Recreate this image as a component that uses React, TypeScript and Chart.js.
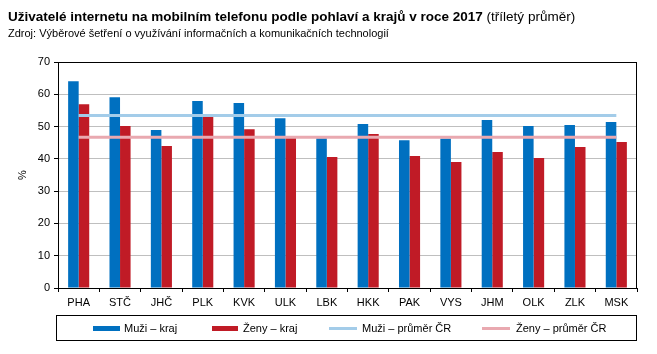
import React, { useEffect, useRef } from "react";
import { Chart, registerables } from "chart.js";

Chart.register(...registerables);

const regions = ["PHA", "STČ", "JHČ", "PLK", "KVK", "ULK", "LBK", "HKK", "PAK", "VYS", "JHM", "OLK", "ZLK", "MSK"];
const menRegion = [64.0, 59.1, 48.9, 57.9, 57.3, 52.6, 46.4, 50.8, 45.8, 46.3, 52.0, 50.2, 50.5, 51.4];
const womenRegion = [56.9, 50.2, 44.0, 53.0, 49.2, 46.5, 40.6, 47.7, 40.9, 39.0, 42.1, 40.3, 43.7, 45.2];
const menAvg = 53.4;
const womenAvg = 46.7;
const yTicks = [0, 10, 20, 30, 40, 50, 60, 70];

const titleBold = "Uživatelé internetu na mobilním telefonu podle pohlaví a krajů v roce 2017";
const titleNormal = " (tříletý průměr)";
const subtitle = "Zdroj: Výběrové šetření o využívání informačních a komunikačních technologií";
const legendLabels = ["Muži – kraj", "Ženy – kraj", "Muži – průměr ČR", "Ženy – průměr ČR"];

const BLUE = "#0070C0";
const RED = "#C01B26";
const LBLUE = "#A3CCE9";
const PINK = "#E9A9B0";
const FONT = "'Liberation Sans', Arial, sans-serif";

const decorPlugin = {
  id: "decor",
  afterDraw(chart: any) {
    const ctx = chart.ctx;
    const a = chart.chartArea;
    ctx.save();
    ctx.strokeStyle = "#000";
    ctx.lineWidth = 1;
    ctx.strokeRect(Math.round(a.left) + 0.5, Math.round(a.top) + 0.5, Math.round(a.right - a.left) - 1, Math.round(a.bottom - a.top));
    ctx.fillStyle = "#000";
    ctx.textBaseline = "alphabetic";
    ctx.textAlign = "left";
    ctx.font = `bold 13.5px ${FONT}`;
    ctx.fillText(titleBold, 8, 21);
    const w = ctx.measureText(titleBold).width;
    ctx.font = `13.5px ${FONT}`;
    ctx.fillText(titleNormal, 8 + w, 21);
    ctx.font = `11px ${FONT}`;
    ctx.fillText(subtitle, 8, 37);
    ctx.strokeRect(56.5, 315.5, 580, 25);
    const items = [
      { x: 93, w: 27, color: BLUE, h: 5, text: 124 },
      { x: 212, w: 26, color: RED, h: 5, text: 243 },
      { x: 329, w: 28, color: LBLUE, h: 3, text: 362 },
      { x: 482, w: 28, color: PINK, h: 3, text: 516 },
    ];
    items.forEach((it, i) => {
      ctx.fillStyle = it.color;
      ctx.fillRect(it.x, 328.5 - it.h / 2, it.w, it.h);
      ctx.fillStyle = "#000";
      ctx.font = `11px ${FONT}`;
      ctx.textBaseline = "middle";
      ctx.fillText(legendLabels[i], it.text, 328.5);
    });
    ctx.restore();
  },
};

export default function App() {
  const ref = useRef<HTMLCanvasElement>(null);
  useEffect(() => {
    const chart = new Chart(ref.current as HTMLCanvasElement, {
      type: "bar",
      data: {
        labels: regions,
        datasets: [
          { type: "bar", label: legendLabels[0], data: menRegion, backgroundColor: BLUE, order: 2, barPercentage: 1, categoryPercentage: 0.51 },
          { type: "bar", label: legendLabels[1], data: womenRegion, backgroundColor: RED, order: 2, barPercentage: 1, categoryPercentage: 0.51 },
          { type: "line", label: legendLabels[2], data: regions.map(() => menAvg), borderColor: LBLUE, borderWidth: 3, pointRadius: 0, order: 1 } as any,
          { type: "line", label: legendLabels[3], data: regions.map(() => womenAvg), borderColor: PINK, borderWidth: 3, pointRadius: 0, order: 1 } as any,
        ],
      },
      options: {
        animation: false,
        responsive: false,
        maintainAspectRatio: false,
        layout: { padding: { left: 16, top: 62, right: 20, bottom: 41 } },
        plugins: { legend: { display: false }, tooltip: { enabled: false }, title: { display: false } },
        scales: {
          x: {
            offset: true,
            grid: { display: true, drawOnChartArea: false, drawTicks: true, tickLength: 4, offset: true, color: "#000", tickColor: "#000" },
            border: { display: true, color: "#000" },
            ticks: { color: "#000", font: { family: FONT, size: 11 }, padding: 4, maxRotation: 0, autoSkip: false },
            afterFit: (s: any) => { s.height = 25; },
          },
          y: {
            min: 0,
            max: 70,
            afterBuildTicks: (s: any) => { s.ticks = yTicks.map((v) => ({ value: v })); },
            grid: { color: "#BFBFBF", tickColor: "#000", tickLength: 4, drawTicks: true },
            border: { display: true, color: "#000" },
            ticks: { color: "#000", font: { family: FONT, size: 11 }, padding: 4 },
            title: { display: true, text: "%", color: "#000", font: { family: FONT, size: 11 }, padding: { top: 0, bottom: 0 } },
            afterFit: (s: any) => { s.width = 42; },
          },
        },
      },
      plugins: [decorPlugin],
    });
    return () => chart.destroy();
  }, []);
  return (
    <div style={{ position: "absolute", left: 0, top: 0, width: 657, height: 354, background: "#fff" }}>
      <canvas ref={ref} width={657} height={354} style={{ display: "block" }} />
    </div>
  );
}
